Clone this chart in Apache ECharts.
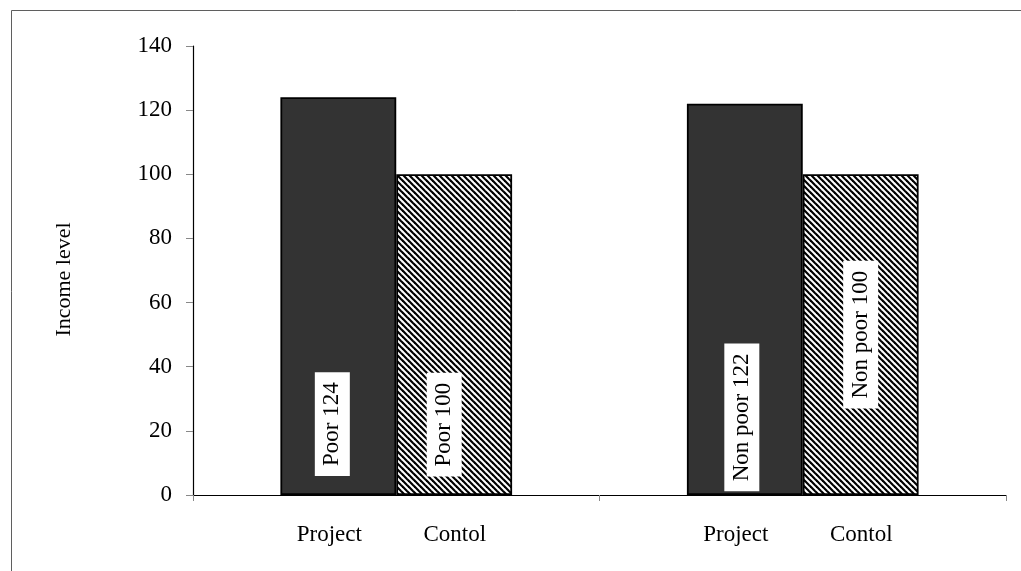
<!DOCTYPE html>
<html>
<head>
<meta charset="utf-8">
<style>
  html, body { margin: 0; padding: 0; background: #fff; }
  #chart { width: 1021px; height: 571px; }
</style>
<script src="https://cdn.jsdelivr.net/npm/echarts@6/dist/echarts.min.js"></script>
</head>
<body>
<div id="chart"></div>
<script>
// Income level by group: project vs control
const groups = ['Poor', 'Non poor'];
const seriesNames = ['Project', 'Contol'];
const projectValues = [124, 122];
const controlValues = [100, 100];
const yTicks = { min: 0, max: 140, step: 20 };
const yTitle = 'Income level';

const FONT = "'Liberation Serif', 'Times New Roman', serif";

// Diagonal hatch fill for the control bars
function hatchPattern() {
  const s = 6;
  const c = document.createElement('canvas');
  c.width = s; c.height = s;
  const g = c.getContext('2d');
  g.fillStyle = '#ffffff';
  g.fillRect(0, 0, s, s);
  g.strokeStyle = '#000000';
  g.lineWidth = 2.2;
  for (const k of [-s, 0, s]) {
    g.beginPath();
    g.moveTo(k - 1, -1);
    g.lineTo(k + s + 1, s + 1);
    g.stroke();
  }
  return c;
}

// Screen-space nudges of the value boxes from each bar's centre (px)
const projectLabelShift = [[-6, 128], [-3, 118]];
const controlLabelShift = [[-10, 90], [0, 0]];

// Label offsets act in the rotated (90°) text frame, so convert screen shifts
function barData(values, shifts) {
  return values.map((v, i) => ({
    value: v,
    label: { offset: [-shifts[i][1], shifts[i][0]] }
  }));
}

const valueLabel = {
  show: true,
  position: 'inside',
  rotate: 90,
  formatter: '{b} {c}',
  fontFamily: FONT,
  fontSize: 23,
  lineHeight: 23,
  color: '#000',
  backgroundColor: '#fff',
  padding: [6, 10]
};

const chart = echarts.init(document.getElementById('chart'));
chart.setOption({
  animation: false,
  backgroundColor: '#fff',
  graphic: [{
    type: 'rect',
    shape: { x: 11.5, y: 10.5, width: 1030, height: 580 },
    style: { fill: 'none', stroke: '#5f5f5f', lineWidth: 1 },
    silent: true
  }],
  grid: { left: 193, right: 15, top: 46, bottom: 76 },
  xAxis: {
    type: 'category',
    data: groups,
    axisLine: { lineStyle: { color: '#000', width: 1.2 } },
    axisTick: { show: true, length: 6, lineStyle: { color: '#888' } },
    axisLabel: {
      margin: 28,
      interval: 0,
      formatter: () => seriesNames.map((n, i) => `{s${i}|${n}}`).join(''),
      rich: {
        s0: { width: 117, align: 'center', fontFamily: FONT, fontSize: 23, color: '#000' },
        s1: { width: 134, align: 'center', fontFamily: FONT, fontSize: 23, color: '#000' }
      }
    }
  },
  yAxis: {
    type: 'value',
    min: yTicks.min,
    max: yTicks.max,
    interval: yTicks.step,
    name: yTitle,
    nameLocation: 'middle',
    nameRotate: 90,
    nameGap: 118,
    nameTextStyle: { fontFamily: FONT, fontSize: 22, color: '#000', padding: [0, 18, 0, 0] },
    axisLine: { show: true, lineStyle: { color: '#000', width: 1.2 } },
    axisTick: { show: true, length: 7, lineStyle: { color: '#888' } },
    axisLabel: { margin: 21, fontFamily: FONT, fontSize: 23, color: '#000' },
    splitLine: { show: false }
  },
  series: [
    {
      name: seriesNames[0],
      type: 'bar',
      barGap: '0%',
      barCategoryGap: '43%',
      data: barData(projectValues, projectLabelShift),
      itemStyle: { color: '#333333', borderColor: '#000', borderWidth: 1.8 },
      label: valueLabel
    },
    {
      name: seriesNames[1],
      type: 'bar',
      data: barData(controlValues, controlLabelShift),
      itemStyle: {
        color: { image: hatchPattern(), repeat: 'repeat' },
        borderColor: '#000',
        borderWidth: 1.8
      },
      label: valueLabel
    }
  ]
});
</script>
</body>
</html>
